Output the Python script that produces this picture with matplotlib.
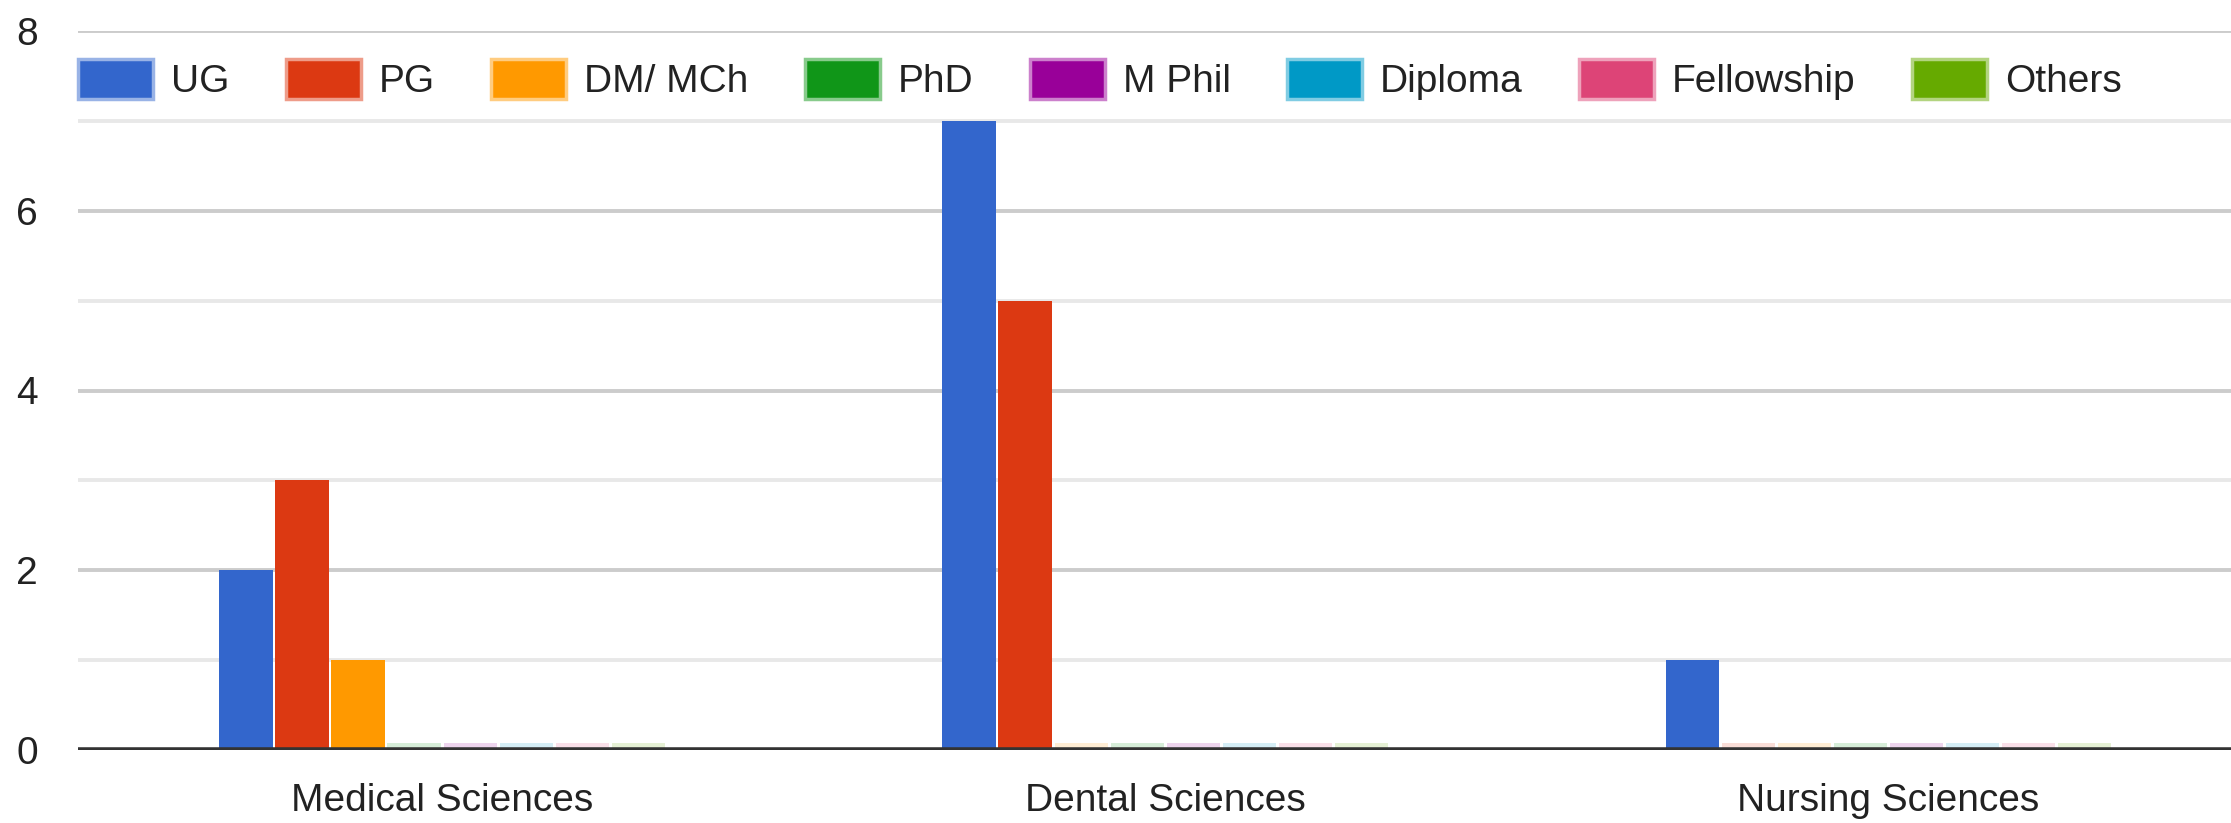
import numpy as np
import matplotlib.pyplot as plt
from matplotlib.patches import Patch

plt.rcParams["font.family"] = ["Liberation Sans", "DejaVu Sans"]

categories = ["Medical Sciences", "Dental Sciences", "Nursing Sciences"]
series_names = ["UG", "PG", "DM/ MCh", "PhD", "M Phil", "Diploma", "Fellowship", "Others"]
ug = [2, 7, 1]
pg = [3, 5, 0]
dm_mch = [1, 0, 0]
phd = [0, 0, 0]
m_phil = [0, 0, 0]
diploma = [0, 0, 0]
fellowship = [0, 0, 0]
others = [0, 0, 0]
yticks = [0, 2, 4, 6, 8]

series_vals = [ug, pg, dm_mch, phd, m_phil, diploma, fellowship, others]
colors = ["#3366cc", "#dc3912", "#ff9900", "#109618",
          "#990099", "#0099c6", "#dd4477", "#66aa00"]

def lighten(c, f=0.5):
    r, g, b = [int(c[i:i+2], 16) / 255 for i in (1, 3, 5)]
    return (r + (1 - r) * f, g + (1 - g) * f, b + (1 - b) * f)

fs = 28
fig = plt.figure(figsize=(22.31, 8.23), dpi=100)
ax = fig.add_axes([78/2231, 1 - 750/823, 1 - 78/2231, 719/823])

x = np.arange(len(categories))
pitch = 0.0775
width = 0.0735
stub = 0.08
for i, (name, vals) in enumerate(zip(series_names, series_vals)):
    vals = np.array(vals, dtype=float)
    pos = x + (i - 3.5) * pitch
    ax.bar(pos, vals, width=width, color=colors[i], zorder=3, linewidth=0)
    # faint stub for zero values
    ax.bar(pos, np.where(vals == 0, stub, 0), width=width, color=colors[i],
           alpha=0.17, zorder=3, linewidth=0)

for v in np.arange(1, 9):
    ax.axhline(v, color="#cccccc" if v % 2 == 0 else "#e8e8e8", lw=2.8, zorder=1)
ax.axhline(0, color="#333333", lw=4, zorder=4)

ax.set_xlim(-0.5035, 2.474)
ax.set_ylim(0, 8)
ax.set_yticks(yticks)
ax.set_yticklabels([str(t) for t in yticks], fontsize=fs, color="#222222")
ax.set_xticks(x)
ax.set_xticklabels(categories, fontsize=fs, color="#222222")
ax.tick_params(axis="y", length=0, pad=29)
ax.tick_params(axis="x", length=0, pad=24)
for s in ax.spines.values():
    s.set_visible(False)

handles = [Patch(facecolor=c, edgecolor=lighten(c), linewidth=2.5) for c in colors]
leg = ax.legend(handles, series_names, ncol=8, loc="center left",
                bbox_to_anchor=(0.0, 0.9325), frameon=False, fontsize=fs,
                handlelength=1.93, handleheight=1.2, handletextpad=0.46,
                columnspacing=1.45, borderpad=0, borderaxespad=0)
for t in leg.get_texts():
    t.set_color("#222222")

plt.savefig("out.png", dpi=100)
plt.close()
